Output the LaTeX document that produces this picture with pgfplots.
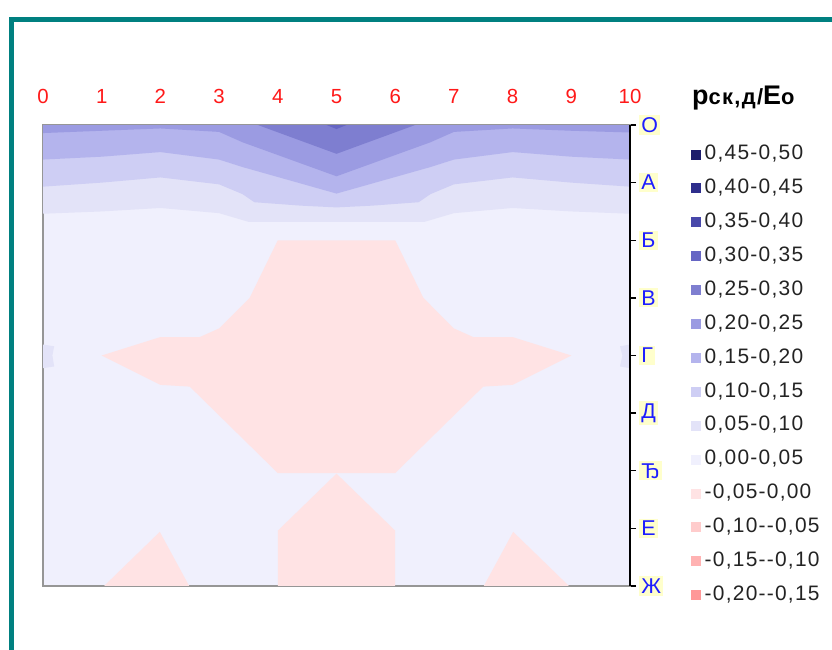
\documentclass[border=0pt]{standalone}
\usepackage{pgfplots}
\pgfplotsset{compat=1.18}
\usepackage{fontspec}
\setmainfont{Liberation Sans}
\newfontfamily\legfont[LetterSpace=6]{Liberation Sans}
\newcommand\fs[1]{\fontsize{#1}{#1}\selectfont}
% band colours (value ranges)
\definecolor{l45}{RGB}{28,28,108}
\definecolor{l40}{RGB}{46,46,140}
\definecolor{l35}{RGB}{72,72,170}
\definecolor{l30}{RGB}{102,102,196}
\definecolor{l25}{RGB}{126,126,208}
\definecolor{l20}{RGB}{155,155,226}
\definecolor{l15}{RGB}{180,180,237}
\definecolor{l10}{RGB}{206,206,244}
\definecolor{l05}{RGB}{227,227,248}
\definecolor{l00}{RGB}{240,240,253}
\definecolor{m05}{RGB}{255,227,228}
\definecolor{m10}{RGB}{255,204,204}
\definecolor{m15}{RGB}{255,178,178}
\definecolor{m20}{RGB}{255,152,152}
\definecolor{framegray}{RGB}{150,150,150}
\definecolor{labelyellow}{RGB}{255,255,204}
\definecolor{labelblue}{RGB}{30,30,255}
\definecolor{labelred}{RGB}{255,25,25}
\definecolor{legtext}{RGB}{35,35,35}
\definecolor{frameteal}{RGB}{0,128,128}
\pgfplotsset{sq/.style={legend image code/.code={\fill[#1] (0bp,-4.5bp) rectangle (9bp,4.5bp);}}}
\begin{document}
\begin{tikzpicture}
\useasboundingbox (0bp,0bp) rectangle (832bp,650bp);
\fill[white] (0bp,0bp) rectangle (832bp,650bp);
\draw[frameteal, line width=5bp] (11bp,-20bp) -- (11bp,630bp) -- (860bp,630bp);
\begin{axis}[
  at={(43bp,64bp)}, anchor=south west, scale only axis,
  width=587bp, height=461bp,
  xmin=0, xmax=10, ymin=0, ymax=8,
  clip=false,
  /pgf/number format/assume math mode=true,
  axis background/.style={fill=l00},
  axis line style={draw=framegray, line width=1.5bp},
  xtick={0,1,...,10},
  xticklabels={0,1,2,3,4,5,6,7,8,9,10},
  xticklabel pos=upper,
  xtick style={draw=none},
  xticklabel style={text=labelred, font=\fs{20.5}, inner sep=2bp, yshift=13bp},
  ytick={0,1,...,8},
  yticklabels={Ж,Е,Ђ,Д,Г,В,Б,А,О},
  yticklabel pos=right, ytick pos=right,
  tick align=outside, major tick length=6bp,
  ytick style={black, line width=1.5bp},
  yticklabel style={text=labelblue, fill=labelyellow, inner sep=2.2bp, font=\fs{21.5}, xshift=3bp},
  legend style={at={(1.099,0.962)}, anchor=north west, draw=none, fill=none,
    font=\legfont\fs{21}, text=legtext,
    nodes={inner sep=0pt, text height=15bp, text depth=4bp},
    row sep=14.9bp,
    /tikz/every odd column/.append style={column sep=4bp}},
  legend cell align=left,
]
% 0.05 - 0.10
\addplot[forget plot, draw=none, fill=l05] coordinates {
 (0,6.46) (1,6.50) (2,6.56) (3,6.47) (3.3,6.38) (3.5,6.32) (6.5,6.32) (6.7,6.38) (7,6.47) (8,6.56) (9,6.50) (10,6.46) (10,8) (0,8)};
% 0.10 - 0.15
\addplot[forget plot, draw=none, fill=l10] coordinates {
 (0,6.93) (1,7.00) (2,7.09) (3,6.97) (3.4,6.80) (3.6,6.66) (4.4,6.60) (5,6.57) (5.6,6.60) (6.4,6.66) (6.6,6.80) (7,6.97) (8,7.09) (9,7.00) (10,6.93) (10,8) (0,8)};
% 0.15 - 0.20
\addplot[forget plot, draw=none, fill=l15] coordinates {
 (0,7.40) (1,7.45) (2,7.53) (3,7.40) (3.4,7.27) (5,6.81) (6.6,7.27) (7,7.40) (8,7.53) (9,7.45) (10,7.40) (10,8) (0,8)};
% 0.20 - 0.25
\addplot[forget plot, draw=none, fill=l20] coordinates {
 (0,7.86) (1,7.90) (2,7.94) (3,7.88) (3.4,7.70) (5,7.11) (6.6,7.70) (7,7.88) (8,7.94) (9,7.90) (10,7.87) (10,8) (0,8)};
% 0.25 - 0.30
\addplot[forget plot, draw=none, fill=l25] coordinates {
 (3.66,8) (5,7.50) (6.34,8)};
% 0.30 - 0.35
\addplot[forget plot, draw=none, fill=l30] coordinates {
 (4.83,8) (5,7.93) (5.17,8)};
% small 0.05 - 0.10 patches at the edges
\addplot[forget plot, draw=none, fill=l05] coordinates {
 (0,4.19) (0.19,4.16) (0.16,4.0) (0.19,3.81) (0,3.78)};
\addplot[forget plot, draw=none, fill=l05] coordinates {
 (10,4.19) (9.83,4.16) (9.87,4.0) (9.83,3.81) (10,3.78)};
% -0.05 - 0.00
\addplot[forget plot, draw=none, fill=m05] coordinates {
 (4.0,6.0) (3.52,5.0) (3.0,4.47) (2.67,4.32) (2.0,4.32) (1.0,4.0) (2.0,3.49) (2.5,3.46) (4.0,1.96)
 (6.0,1.96) (7.5,3.46) (8.0,3.49) (9.0,4.0) (8.0,4.32) (7.33,4.32) (7.0,4.47) (6.48,5.0) (6.0,6.0)};
\addplot[forget plot, draw=none, fill=m05] coordinates {
 (5.0,1.95) (6.0,0.96) (6.0,0) (4.0,0) (4.0,0.96)};
\addplot[forget plot, draw=none, fill=m05] coordinates {
 (1.04,0) (1.99,0.94) (2.49,0)};
\addplot[forget plot, draw=none, fill=m05] coordinates {
 (7.51,0) (8.01,0.94) (8.96,0)};
\draw[black, line width=2bp] (rel axis cs:1,0) -- (rel axis cs:1,1);
% legend
\addlegendimage{sq=l45} \addlegendentry{0,45-0,50}
\addlegendimage{sq=l40} \addlegendentry{0,40-0,45}
\addlegendimage{sq=l35} \addlegendentry{0,35-0,40}
\addlegendimage{sq=l30} \addlegendentry{0,30-0,35}
\addlegendimage{sq=l25} \addlegendentry{0,25-0,30}
\addlegendimage{sq=l20} \addlegendentry{0,20-0,25}
\addlegendimage{sq=l15} \addlegendentry{0,15-0,20}
\addlegendimage{sq=l10} \addlegendentry{0,10-0,15}
\addlegendimage{sq=l05} \addlegendentry{0,05-0,10}
\addlegendimage{sq=l00} \addlegendentry{0,00-0,05}
\addlegendimage{sq=m05} \addlegendentry{-0,05-0,00}
\addlegendimage{sq=m10} \addlegendentry{-0,10-{}-0,05}
\addlegendimage{sq=m15} \addlegendentry{-0,15-{}-0,10}
\addlegendimage{sq=m20} \addlegendentry{-0,20-{}-0,15}
\node[anchor=base west, inner sep=0pt, text=black] at (axis description cs:1.1056,1.0434)
 {\legfont\bfseries\fs{27}р\fs{22}ск,д/\fs{27}Е\fs{22}о};
\end{axis}
\end{tikzpicture}
\end{document}
